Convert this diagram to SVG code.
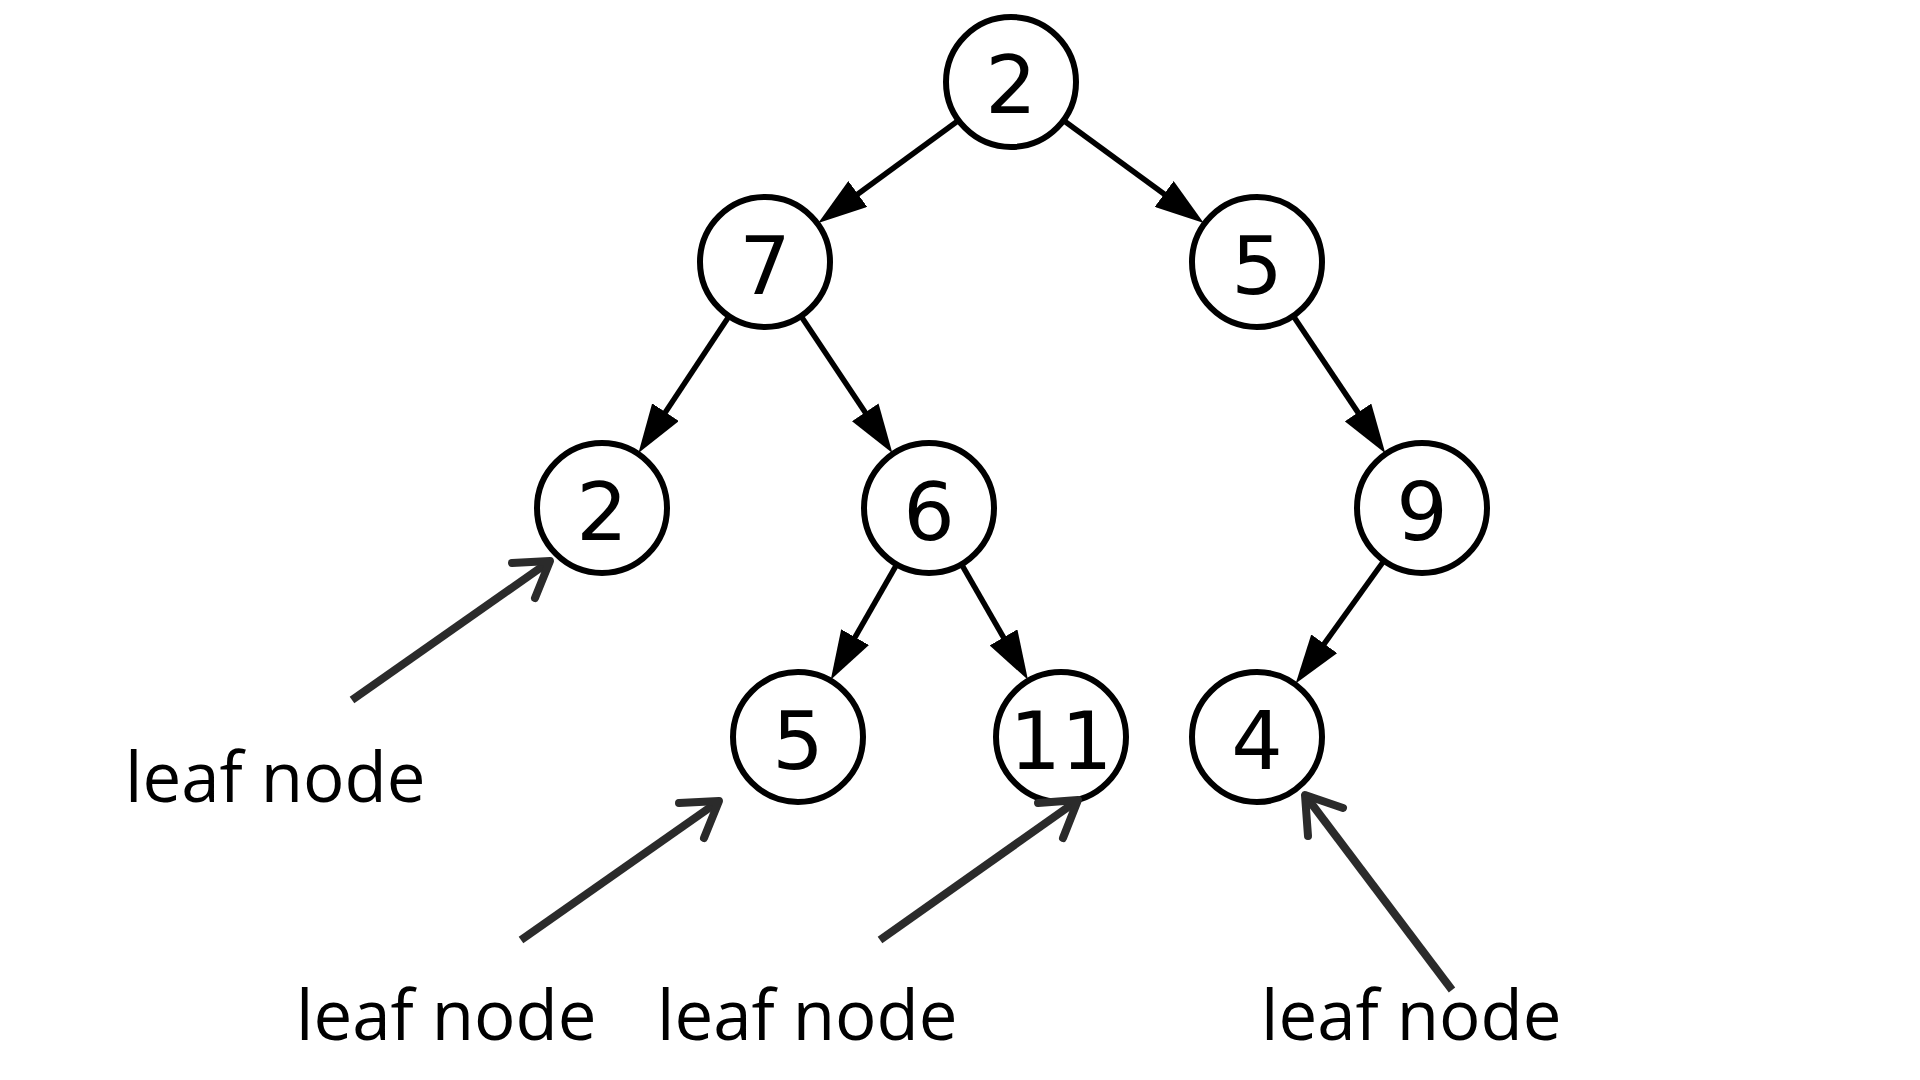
<svg xmlns="http://www.w3.org/2000/svg" width="1920" height="1080" viewBox="0 0 1920 1080">
<style>
.node circle{fill:#fff;stroke:#000;stroke-width:6}
.node text{font-family:"DejaVu Sans",sans-serif;font-size:81px;text-anchor:middle;fill:#000}
.edge{stroke:#000;stroke-width:5.5;fill:none}
.ann line{stroke:#2b2b2b;stroke-width:8;fill:none}
.ann polyline{stroke:#2b2b2b;stroke-width:8;fill:none;stroke-linecap:round;stroke-linejoin:round}
.label{font-family:"Open Sans","Noto Sans",sans-serif;font-size:69px;fill:#000}
</style>
<defs>
<marker id="ah" viewBox="0 -16 49 32" refX="2" refY="0" markerWidth="49" markerHeight="32" markerUnits="userSpaceOnUse" orient="auto">
<path d="M0,-16 L49,0 L0,16 z" fill="#000"/>
</marker>
</defs>
<rect width="1920" height="1080" fill="#fff"/>
<g id="connectors">
<line class="edge" x1="957.7" y1="121" x2="856.2" y2="195.2" marker-end="url(#ah)"/>
<line class="edge" x1="1064.3" y1="121" x2="1165.8" y2="195.2" marker-end="url(#ah)"/>
<line class="edge" x1="728.5" y1="317" x2="664.4" y2="413.8" marker-end="url(#ah)"/>
<line class="edge" x1="801.6" y1="316.9" x2="866.3" y2="414.0" marker-end="url(#ah)"/>
<line class="edge" x1="1293.8" y1="316.8" x2="1359.1" y2="414.1" marker-end="url(#ah)"/>
<line class="edge" x1="896.2" y1="565.3" x2="854.1" y2="638.9" marker-end="url(#ah)"/>
<line class="edge" x1="962" y1="565.2" x2="1004.5" y2="639.1" marker-end="url(#ah)"/>
<line class="edge" x1="1383.4" y1="561.5" x2="1323.1" y2="645.4" marker-end="url(#ah)"/>
</g>
<g id="n-root" class="node"><circle cx="1011" cy="82" r="65"/><text x="1011" y="113">2</text></g>
<g id="n-7" class="node"><circle cx="765" cy="262" r="65"/><text x="765" y="294">7</text></g>
<g id="n-5a" class="node"><circle cx="1257" cy="262" r="65"/><text x="1257" y="294">5</text></g>
<g id="n-2" class="node"><circle cx="602" cy="508" r="65"/><text x="602" y="540">2</text></g>
<g id="n-6" class="node"><circle cx="929" cy="508" r="65"/><text x="929" y="540">6</text></g>
<g id="n-9" class="node"><circle cx="1422" cy="508" r="65"/><text x="1422" y="540">9</text></g>
<g id="n-5b" class="node"><circle cx="798" cy="737" r="65"/><text x="798" y="769">5</text></g>
<g id="n-11" class="node"><circle cx="1061" cy="737" r="65"/><text x="1061" y="769">11</text></g>
<g id="n-4" class="node"><circle cx="1257" cy="737" r="65"/><text x="1257" y="769">4</text></g>
<g id="annotations" class="ann">
<line x1="352" y1="700" x2="548" y2="562.5"/>
<polyline points="512,563 550,561 535,598"/>
<line x1="521" y1="940" x2="717" y2="802.5"/>
<polyline points="679,803 719,801 704,838"/>
<line x1="880" y1="940" x2="1076" y2="801.5"/>
<polyline points="1038,803 1078,800 1063,838"/>
<line x1="1452" y1="990" x2="1306.5" y2="797"/>
<polyline points="1343,808 1305,795 1308,836"/>
</g>
<g id="labels">
<text class="label" x="125" y="802">leaf node</text>
<text class="label" x="296" y="1040">leaf node</text>
<text class="label" x="657" y="1040">leaf node</text>
<text class="label" x="1261" y="1040">leaf node</text>
</g>
</svg>
